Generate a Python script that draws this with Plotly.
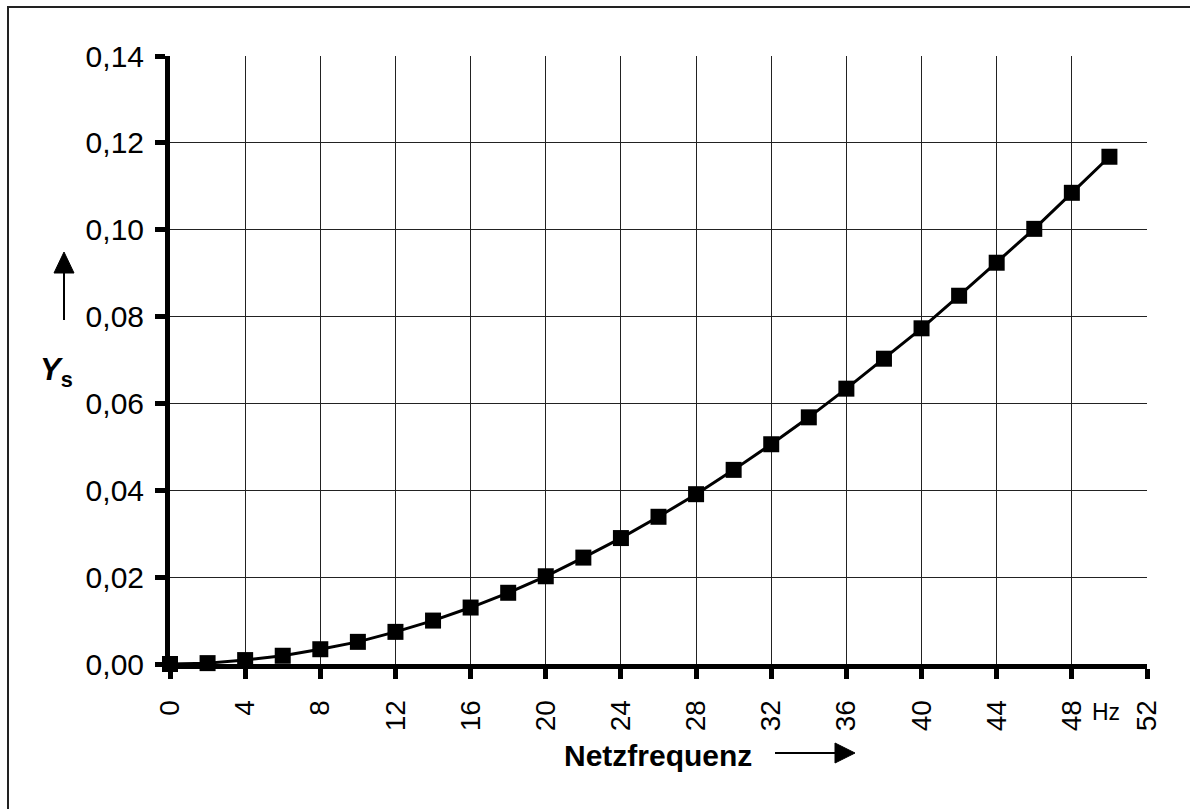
import plotly.graph_objects as go

# Data
freq_hz = [0, 2, 4, 6, 8, 10, 12, 14, 16, 18, 20, 22, 24, 26, 28, 30, 32, 34, 36, 38, 40, 42, 44, 46, 48, 50]
ys_values = [0.0, 0.0002, 0.0009, 0.0019, 0.0034, 0.0051, 0.0074, 0.0100, 0.0130, 0.0164, 0.0202,
             0.0245, 0.0290, 0.0339, 0.0391, 0.0447, 0.0506, 0.0568, 0.0634, 0.0703, 0.0773,
             0.0848, 0.0924, 0.1002, 0.1085, 0.1168]
x_ticks = list(range(0, 53, 4))
y_ticks = [0.00, 0.02, 0.04, 0.06, 0.08, 0.10, 0.12, 0.14]

W, H = 1190, 809
L, R, T, B = 170, 1147, 56, 664  # plot area in pixels


def px(x):
    return (x - L) / (R - L)


def py(y):
    return (B - y) / (B - T)


FONT = "Liberation Sans, Arial, sans-serif"

fig = go.Figure()
fig.add_trace(go.Scatter(
    x=freq_hz, y=ys_values, mode="lines+markers",
    line=dict(color="black", width=3),
    marker=dict(symbol="square", size=16, color="black"),
    cliponaxis=False, showlegend=False,
))

fig.update_layout(
    width=W, height=H,
    margin=dict(l=L, r=W - R, t=T, b=H - B, pad=0),
    paper_bgcolor="white", plot_bgcolor="white",
    separators=",.",
    font=dict(family=FONT, color="black", size=30),
    xaxis=dict(
        range=[0, 52], tickvals=x_ticks, ticktext=[str(v) for v in x_ticks],
        tickangle=-90, showgrid=True, gridcolor="#222", gridwidth=1,
        showline=True, linecolor="black", linewidth=5,
        ticks="outside", ticklen=10, tickwidth=5, tickcolor="black",
        zeroline=False, tickfont=dict(size=28, family=FONT),
        ticklabelstandoff=10,
    ),
    yaxis=dict(
        range=[0, 0.14], tickvals=y_ticks, tickformat=".2f",
        showgrid=True, gridcolor="#222", gridwidth=1,
        showline=True, linecolor="black", linewidth=5,
        ticks="outside", ticklen=10, tickwidth=5, tickcolor="black",
        zeroline=False, tickfont=dict(size=30, family=FONT),
        ticklabelstandoff=5,
    ),
)

shapes = []
# outer frame (only top and left edges visible)
shapes.append(dict(type="rect", xref="paper", yref="paper",
                   x0=px(8), x1=px(1260), y0=py(900), y1=py(7),
                   line=dict(color="#222", width=2), fillcolor="rgba(0,0,0,0)", layer="below"))
# up arrow next to Y_s
shapes.append(dict(type="line", xref="paper", yref="paper",
                   x0=px(64), x1=px(64), y0=py(320), y1=py(270),
                   line=dict(color="black", width=2)))
shapes.append(dict(type="path", xref="paper", yref="paper",
                   path=f"M {px(54)} {py(273)} L {px(74)} {py(273)} L {px(64)} {py(252)} Z",
                   fillcolor="black", line=dict(color="black", width=1)))
# right arrow next to Netzfrequenz
shapes.append(dict(type="line", xref="paper", yref="paper",
                   x0=px(775), x1=px(838), y0=py(753), y1=py(753),
                   line=dict(color="black", width=2)))
shapes.append(dict(type="path", xref="paper", yref="paper",
                   path=f"M {px(835)} {py(743)} L {px(835)} {py(763)} L {px(855)} {py(753)} Z",
                   fillcolor="black", line=dict(color="black", width=1)))
fig.update_layout(shapes=shapes)

fig.add_annotation(text="<b>Netzfrequenz</b>", xref="paper", yref="paper",
                   x=px(658), y=py(755), xanchor="center", yanchor="middle",
                   showarrow=False, font=dict(size=30, family=FONT))
fig.add_annotation(text="<b><i>Y</i></b><b><sub>s</sub></b>", xref="paper", yref="paper",
                   x=px(56), y=py(372), xanchor="center", yanchor="middle",
                   showarrow=False, font=dict(size=31, family=FONT))
fig.add_annotation(text="Hz", xref="paper", yref="paper",
                   x=px(1106), y=py(712), xanchor="center", yanchor="middle",
                   showarrow=False, font=dict(size=23, family=FONT))

fig.write_html("out.html")
